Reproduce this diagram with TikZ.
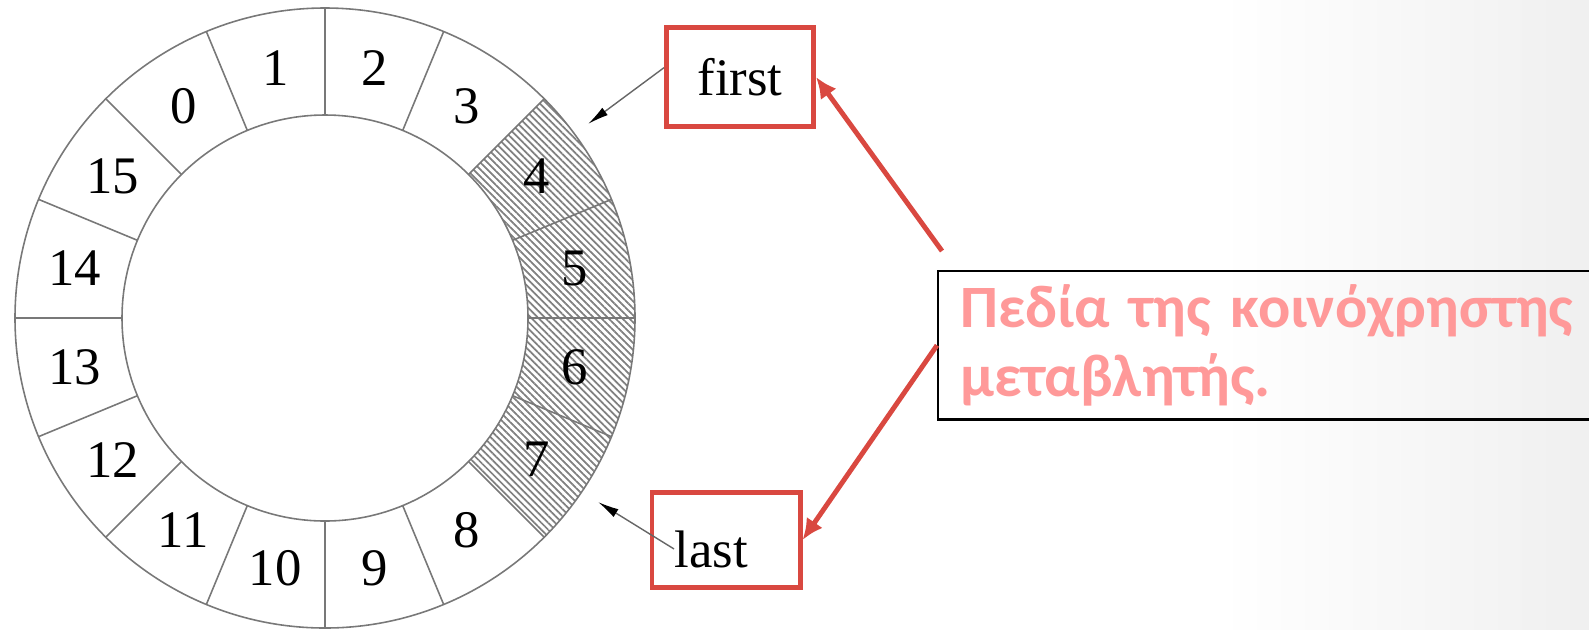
\documentclass[tikz,border=0pt]{standalone}
\usepackage{fontspec}
\setmainfont{Liberation Serif}
\newfontfamily\notefont{Carlito}
\usetikzlibrary{calc, arrows.meta, patterns.meta}
\definecolor{boxred}{RGB}{217,72,64}
\definecolor{notepink}{RGB}{255,153,153}
\definecolor{ringgray}{RGB}{120,120,120}

\begin{document}
\begin{tikzpicture}[x=0.01cm, y=0.01cm,
 ring/.style={draw=ringgray, line width=0.45pt},
 cell/.style={font=\fontsize{15}{18}\selectfont, inner sep=0pt},
 redbox/.style={draw=boxred, line width=1.4pt, minimum width=1.47cm, minimum height=0.99cm, font=\fontsize{15}{18}\selectfont},
 redarrow/.style={draw=boxred, line width=1.4pt, -{Latex[length=6pt, width=5.5pt]}},
 ptr/.style={draw=black!60, line width=0.4pt, -{Latex[length=6pt, width=2.6pt, color=black]}},
 notebox/.style={draw=black, line width=0.7pt, text width=6.3cm, inner xsep=0.22cm, minimum height=1.48cm, align=left, text=notepink, font=\notefont\bfseries\fontsize{17.1}{19.6}\selectfont}]
 \useasboundingbox (0,0) rectangle (1589,629);
 \shade[left color=white, right color=black!6] (1220,0) rectangle (1589,629);
 \coordinate (C) at (325,311);
 % shared cells 4..7
 \path[pattern={Lines[angle=-45, distance=1.4pt, line width=0.5pt]}, pattern color=black!50]
 ($(C)+(45:203)$) -- ($(C)+(45:310)$) arc[start angle=45, end angle=-45, radius=310]
 -- ($(C)+(-45:203)$) arc[start angle=-45, end angle=45, radius=203] -- cycle;
 \draw[ring] (C) circle[radius=310] (C) circle[radius=203];
 \foreach \a in {0,22.5,...,337.5}
 \draw[ring] ($(C)+(\a:203)$) -- ($(C)+(\a:310)$);
 \foreach \i in {0,...,15}
 \node[cell] (c\i) at ($(C)+({123.75-22.5*\i}:255)$) {\i};

 \node[redbox] (first) at (740,552) {first};
 \node[redbox, minimum width=1.48cm, minimum height=0.95cm] (lastbox) at (726,89) {};
 \node[cell, anchor=base west] (last) at (674,62) {last};
 \coordinate (fhead) at (588,505);
 \coordinate (lhead) at (598,127);
 \draw[ptr] (first.173) -- (fhead);
 \draw[ptr] (last.west) -- (lhead);

 \node[notebox, anchor=north west] (note) at (937,359) {Πεδία της κοινόχρηστης\\ μεταβλητής.};
 \coordinate (tail) at (942,378);
 \draw[redarrow] (tail) -- (first.east);
 \draw[redarrow] (note.west) -- (lastbox.east);
\end{tikzpicture}
\end{document}
